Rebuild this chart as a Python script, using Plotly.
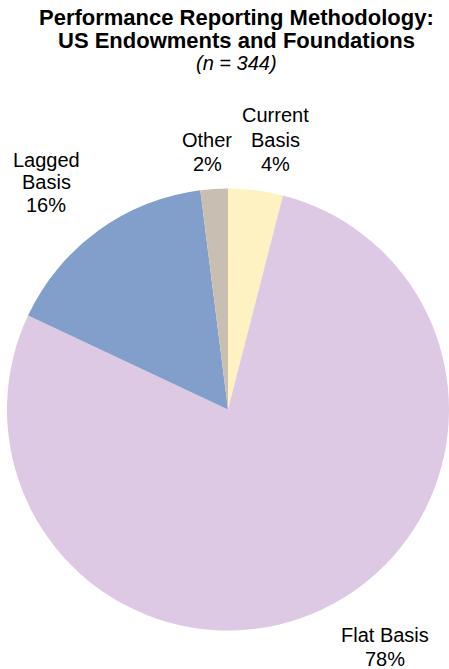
import plotly.graph_objects as go

categories = ["Current Basis", "Flat Basis", "Lagged Basis", "Other"]
values = [4, 78, 16, 2]
colors = ["#FFF2C2", "#DDC9E4", "#829ECA", "#C9BEB2"]
label_lines = [["Current", "Basis"], ["Flat Basis"], ["Lagged", "Basis"], ["Other"]]

W, H = 449, 669

fig = go.Figure(go.Pie(
    labels=categories,
    values=values,
    sort=False,
    direction="clockwise",
    rotation=0,
    marker=dict(colors=colors, line=dict(width=0)),
    textinfo="none",
    hoverinfo="label+percent",
    showlegend=False,
    domain=dict(x=[7 / W, 1.0], y=[1 - 630.5 / H, 1 - 188.5 / H]),
))

def px_x(x):
    return x / W

def px_y(y):
    return 1 - y / H

annotations = []
title_lines = [
    ("<b>Performance Reporting Methodology:</b>", 17.7, 22),
    ("<b>US Endowments and Foundations</b>", 40.7, 22),
    ("<i>(n = 344)</i>", 63.5, 20),
]
for txt, y, sz in title_lines:
    annotations.append(dict(text=txt, x=px_x(237), y=px_y(y), xref="paper", yref="paper",
                            xanchor="center", yanchor="middle", showarrow=False,
                            font=dict(family="Liberation Sans, Arial", size=sz, color="#000000")))

# label line centers (pixels from top-left) for each category
label_x = [275, 385, 46, 207]
label_y = [[115, 139.5, 164], [635, 659], [160, 182.5, 204.5], [139.5, 164]]
for lines, v, cx, ys in zip(label_lines, values, label_x, label_y):
    all_lines = lines + [f"{v}%"]
    for ln, y in zip(all_lines, ys):
        annotations.append(dict(text=ln, x=px_x(cx), y=px_y(y), xref="paper", yref="paper",
                                xanchor="center", yanchor="middle", showarrow=False,
                                font=dict(family="Liberation Sans, Arial", size=20, color="#000000")))

fig.update_layout(
    width=W, height=H,
    margin=dict(l=0, r=0, t=0, b=0),
    paper_bgcolor="#FFFFFF",
    plot_bgcolor="#FFFFFF",
    annotations=annotations,
)

fig.write_html(
    "out.html",
    config={"displayModeBar": False},
    post_script=(
        "document.body.style.margin='0';"
        "document.body.style.overflow='hidden';"
        "document.documentElement.style.overflow='hidden';"
    ),
)
